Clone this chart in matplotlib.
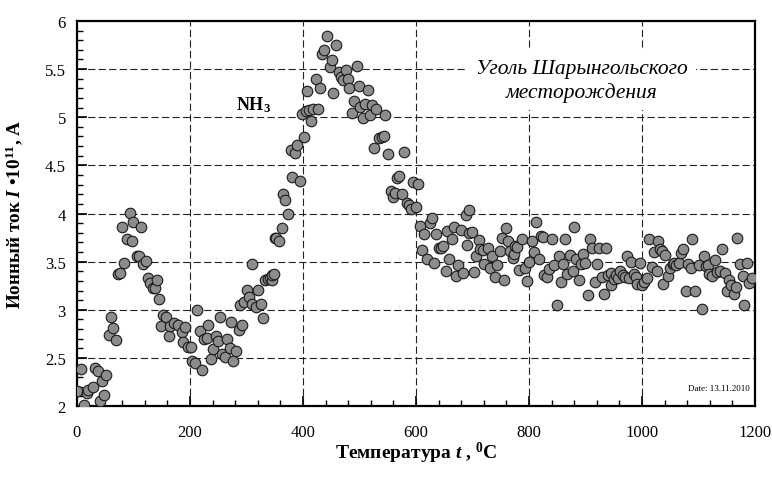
import matplotlib
matplotlib.use("Agg")
import matplotlib.pyplot as plt
from matplotlib.ticker import MultipleLocator, FormatStrFormatter

# temperature, deg C
temp = [
    0, 8, 12, 17, 20, 29, 32, 38, 41, 45, 48, 52, 56, 61, 64, 69, 72, 77, 80, 84,
    88, 93, 97, 100, 106, 110, 113, 116, 122, 125, 129, 135, 138, 141, 145, 148, 153, 157, 162, 165,
    172, 179, 185, 188, 192, 197, 201, 203, 209, 213, 217, 221, 224, 230, 232, 237, 241, 246, 250, 253,
    256, 262, 265, 270, 273, 277, 281, 286, 289, 292, 296, 301, 305, 309, 310, 317, 321, 325, 330, 333,
    338, 342, 345, 346, 349, 350, 353, 358, 362, 365, 368, 374, 378, 381, 386, 390, 395, 398, 402, 406,
    407, 411, 414, 418, 423, 426, 430, 434, 438, 443, 447, 451, 454, 458, 463, 467, 470, 476, 479, 482,
    486, 491, 495, 499, 501, 507, 510, 515, 519, 522, 526, 530, 535, 539, 543, 546, 551, 555, 559, 563,
    567, 570, 575, 579, 584, 588, 592, 594, 600, 603, 607, 611, 614, 619, 624, 628, 631, 635, 640, 644,
    647, 653, 655, 659, 663, 668, 671, 675, 679, 684, 689, 690, 693, 694, 700, 703, 707, 712, 713, 719,
    720, 727, 731, 735, 740, 744, 748, 752, 756, 759, 763, 766, 771, 774, 775, 779, 783, 788, 793, 796,
    800, 805, 808, 812, 817, 821, 825, 827, 831, 835, 840, 845, 849, 853, 857, 861, 863, 868, 873, 877,
    880, 883, 889, 892, 896, 899, 905, 908, 912, 916, 921, 924, 929, 932, 936, 939, 945, 946, 950, 954,
    958, 961, 966, 970, 973, 977, 981, 985, 989, 992, 997, 1000, 1004, 1009, 1012, 1017, 1021, 1026, 1029, 1031,
    1035, 1038, 1041, 1046, 1050, 1054, 1057, 1061, 1066, 1069, 1073, 1077, 1082, 1086, 1089, 1094, 1100, 1106, 1110, 1113,
    1117, 1119, 1123, 1129, 1133, 1138, 1141, 1146, 1150, 1154, 1158, 1162, 1166, 1169, 1174, 1178, 1181, 1185, 1190, 1194,
]
# ion current, A * 1e11
current = [
    2.16, 2.38, 2.01, 2.14, 2.17, 2.20, 2.40, 2.36, 2.05, 2.26, 2.11, 2.32, 2.74, 2.93, 2.81, 2.69, 3.37, 3.38, 3.86, 3.49,
    3.74, 4.01, 3.71, 3.91, 3.56, 3.56, 3.86, 3.48, 3.51, 3.33, 3.28, 3.23, 3.23, 3.31, 3.11, 2.83, 2.95, 2.92, 2.73, 2.83,
    2.86, 2.84, 2.77, 2.66, 2.82, 2.61, 2.61, 2.47, 2.45, 3.00, 2.78, 2.37, 2.70, 2.71, 2.84, 2.49, 2.59, 2.73, 2.68, 2.92,
    2.54, 2.51, 2.70, 2.60, 2.87, 2.47, 2.57, 2.79, 3.05, 2.84, 3.08, 3.21, 3.13, 3.48, 3.06, 3.03, 3.21, 3.06, 2.91, 3.31,
    3.32, 3.33, 3.31, 3.36, 3.37, 3.75, 3.75, 3.71, 3.85, 4.20, 4.14, 3.99, 4.66, 4.38, 4.63, 4.71, 4.34, 5.03, 4.79, 5.06,
    5.27, 5.08, 4.96, 5.09, 5.40, 5.09, 5.30, 5.66, 5.70, 5.84, 5.52, 5.59, 5.25, 5.75, 5.47, 5.42, 5.39, 5.49, 5.40, 5.30,
    5.04, 5.17, 5.53, 5.32, 5.11, 4.99, 5.14, 5.28, 5.02, 5.13, 4.68, 5.09, 4.78, 4.79, 4.80, 5.02, 4.62, 4.23, 4.17, 4.21,
    4.37, 4.39, 4.20, 4.64, 4.11, 4.09, 4.05, 4.33, 4.07, 4.31, 3.87, 3.62, 3.79, 3.53, 3.90, 3.95, 3.49, 3.79, 3.64, 3.64,
    3.66, 3.40, 3.82, 3.53, 3.74, 3.86, 3.35, 3.47, 3.83, 3.38, 3.98, 3.67, 3.80, 4.04, 3.81, 3.39, 3.56, 3.72, 3.63, 3.62,
    3.48, 3.64, 3.43, 3.56, 3.34, 3.46, 3.61, 3.75, 3.31, 3.85, 3.71, 3.61, 3.54, 3.58, 3.66, 3.65, 3.41, 3.73, 3.43, 3.30,
    3.50, 3.71, 3.60, 3.91, 3.53, 3.77, 3.76, 3.36, 3.34, 3.42, 3.74, 3.46, 3.05, 3.56, 3.29, 3.48, 3.73, 3.37, 3.57, 3.40,
    3.86, 3.53, 3.31, 3.48, 3.58, 3.49, 3.15, 3.74, 3.64, 3.29, 3.48, 3.64, 3.34, 3.16, 3.64, 3.36, 3.26, 3.38, 3.32, 3.36,
    3.33, 3.40, 3.36, 3.34, 3.56, 3.33, 3.50, 3.37, 3.34, 3.27, 3.49, 3.26, 3.29, 3.33, 3.74, 3.44, 3.60, 3.40, 3.71, 3.63,
    3.61, 3.27, 3.57, 3.35, 3.43, 3.48, 3.49, 3.47, 3.49, 3.59, 3.63, 3.19, 3.48, 3.43, 3.74, 3.20, 3.46, 3.01, 3.56, 3.45,
    3.46, 3.37, 3.35, 3.52, 3.39, 3.40, 3.63, 3.38, 3.19, 3.31, 3.26, 3.16, 3.24, 3.75, 3.48, 3.35, 3.05, 3.49, 3.28, 3.33,
]

grid_x = [200, 400, 600, 800, 1000]
grid_y = [2.5, 3.0, 3.5, 4.0, 4.5, 5.0, 5.5]

plt.rcParams['font.family'] = ['Liberation Serif', 'DejaVu Serif']
plt.rcParams['mathtext.fontset'] = 'custom'
plt.rcParams['mathtext.rm'] = 'Liberation Serif:bold'
plt.rcParams['mathtext.it'] = 'Liberation Serif:bold:italic'
plt.rcParams['mathtext.bf'] = 'Liberation Serif:bold'

fig = plt.figure(figsize=(7.72, 4.81), dpi=100)
ax = fig.add_axes([0.0997, 0.1538, 0.8783, 0.8005])

dash = (0, (6.5, 3))
for gx in grid_x:
    ax.axvline(gx, color='#222222', lw=0.8, linestyle=dash, zorder=1)
for gy in grid_y:
    ax.axhline(gy, color='#222222', lw=0.8, linestyle=dash, zorder=1)

ax.scatter(temp, current, s=58, c='#8c8c8c', edgecolors='#1a1a1a',
           linewidths=0.8, zorder=3)

ax.set_xlim(0, 1200)
ax.set_ylim(2, 6)
ax.xaxis.set_major_locator(MultipleLocator(200))
ax.xaxis.set_minor_locator(MultipleLocator(40))
ax.yaxis.set_major_locator(MultipleLocator(0.5))
ax.yaxis.set_minor_locator(MultipleLocator(0.1))
ax.yaxis.set_major_formatter(FormatStrFormatter('%g'))
ax.tick_params(which='both', direction='in', labelsize=12, top=False, right=False)
ax.tick_params(which='major', length=7, width=1.2, pad=8)
ax.tick_params(axis='x', which='major', pad=13)
ax.tick_params(which='minor', length=4, width=1.0)
for sp in ax.spines.values():
    sp.set_linewidth(1.6)

ax.set_xlabel(r'Температура $\mathit{t}$ , $^{0}$C', fontsize=14,
              fontweight='bold', labelpad=0)
ax.set_ylabel(r'Ионный ток $\mathit{I}$ •10$^{11}$, А', fontsize=13.8,
              fontweight='bold', labelpad=14)

ax.text(313, 5.14, r'NH$_{3}$', fontsize=13, fontweight='bold', ha='center',
        va='center', zorder=4)
ax.text(893, 5.38, 'Уголь Шарынгольского\nместорождения', fontsize=15.5,
        style='italic', ha='center', va='center', linespacing=1.25, zorder=4,
        bbox=dict(facecolor='white', edgecolor='none', pad=6))
ax.text(1190, 2.19, 'Date: 13.11.2010', fontsize=6.5, ha='right', va='center',
        zorder=4)

fig.savefig('out.png', dpi=100)
